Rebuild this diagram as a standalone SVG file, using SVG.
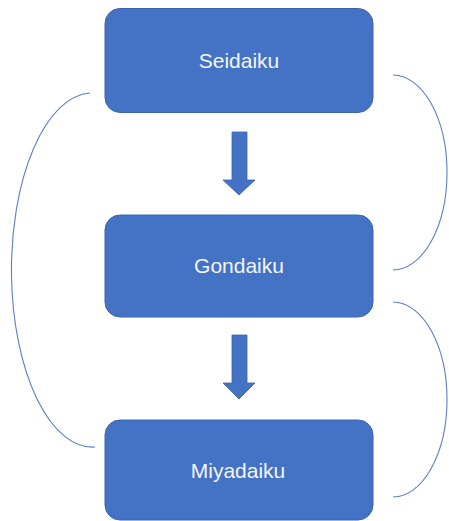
<svg xmlns="http://www.w3.org/2000/svg" width="449" height="521" viewBox="0 0 449 521">
  <style>
    .box { fill: #4472C4; stroke: #3A64AE; stroke-width: 1; }
    .label { font-family: "Liberation Sans", Arial, sans-serif; font-size: 21px; fill: #F4F6FA; text-anchor: middle; }
    .arrow { fill: #4472C4; stroke: #3A64AE; stroke-width: 0.8; }
    .curve { fill: none; stroke: #5B7FC4; stroke-width: 1.1; }
  </style>
  <rect width="449" height="521" fill="#FFFFFF"/>
  <g id="connectors">
    <path class="curve" d="M90,93 A81,177 0 0 0 95,447"/>
    <path class="curve" d="M393,75 A54,97.5 0 0 1 393,270"/>
    <path class="curve" d="M393,302 A54,97.5 0 0 1 393,497"/>
    <polygon class="arrow" points="232,132 247,132 247,180 255,180 239,195 223,180 232,180"/>
    <polygon class="arrow" points="232,335 247,335 247,383 255,383 239,399 223,383 232,383"/>
  </g>
  <g id="seidaiku">
    <rect class="box" x="105" y="8.5" width="268" height="104" rx="15"/>
    <text class="label" x="239" y="68">Seidaiku</text>
  </g>
  <g id="gondaiku">
    <rect class="box" x="105" y="215" width="268" height="102" rx="15"/>
    <text class="label" x="239" y="273">Gondaiku</text>
  </g>
  <g id="miyadaiku">
    <rect class="box" x="105" y="420" width="268" height="100" rx="15"/>
    <text class="label" x="238" y="478">Miyadaiku</text>
  </g>
</svg>
